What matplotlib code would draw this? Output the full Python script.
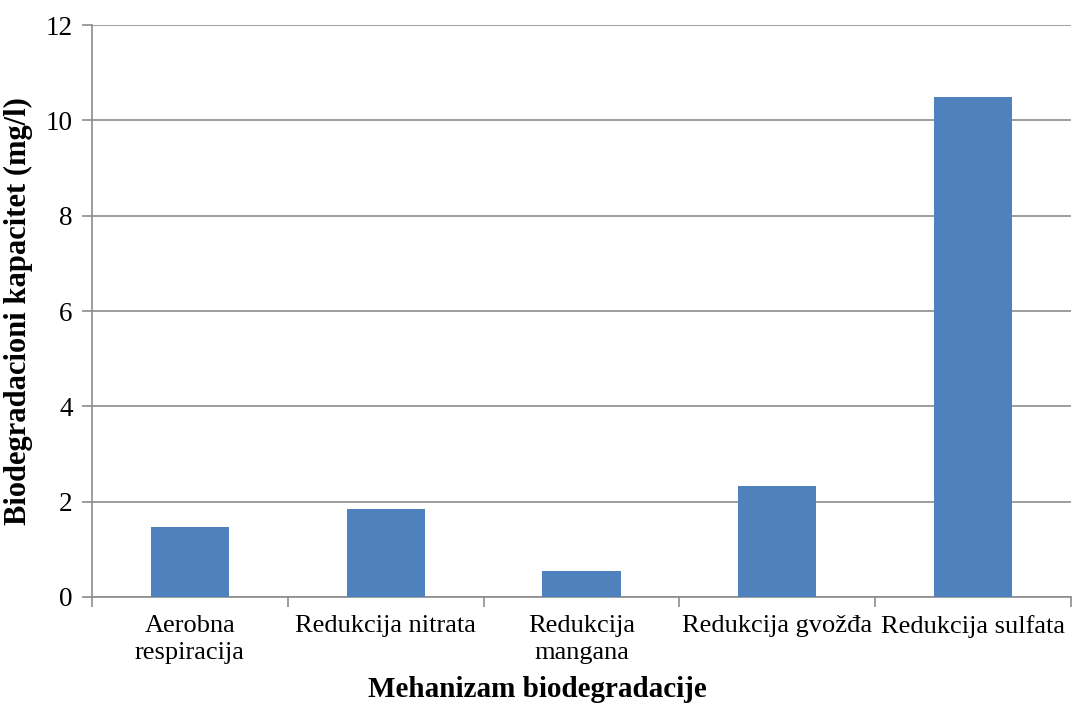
import matplotlib
matplotlib.use('Agg')
import matplotlib.pyplot as plt
import numpy as np

# Biodegradation capacity per mechanism
mehanizmi = ['Aerobna\nrespiracija', 'Redukcija nitrata', 'Redukcija\nmangana',
             'Redukcija gvožđa', 'Redukcija sulfata']
kapacitet = [1.46, 1.85, 0.55, 2.33, 10.5]
y_ticks = [0, 2, 4, 6, 8, 10, 12]

plt.rcParams['font.family'] = ['Liberation Serif', 'DejaVu Serif']

fig = plt.figure(figsize=(10.75, 7.09), dpi=100)
ax = fig.add_axes([0.0856, 0.158, 0.9107, 0.8067])

x = np.arange(len(mehanizmi))
ax.bar(x, kapacitet, width=0.4, color='#4F81BD', zorder=3)

grid_col = '#8C8C8C'
ax.set_ylim(0, 12)
ax.set_xlim(-0.5, len(mehanizmi) - 0.5)
ax.set_yticks(y_ticks)
ax.set_yticklabels([str(t) for t in y_ticks], fontsize=19.5)
ax.yaxis.grid(True, color=grid_col, linewidth=1.2, zorder=0)

ax.set_xticks(x)
ax.set_xticklabels(mehanizmi, fontsize=19)
for lbl in ax.get_xticklabels():
    lbl.set_linespacing(1.3)
ax.set_xticks(np.arange(-0.5, len(mehanizmi)), minor=True)
ax.tick_params(axis='x', which='major', length=0, pad=13)
ax.tick_params(axis='x', which='minor', length=7, color=grid_col, width=1.2)
ax.tick_params(axis='y', length=7, color=grid_col, width=1.2, pad=7)

for s in ['top', 'right']:
    ax.spines[s].set_visible(False)
for s in ['left', 'bottom']:
    ax.spines[s].set_color(grid_col)
    ax.spines[s].set_linewidth(1.2)

ax.set_ylabel('Biodegradacioni kapacitet (mg/l)', fontsize=22, fontweight='bold', labelpad=9)
fig.text(0.5, 0.008, 'Mehanizam biodegradacije', ha='center', va='bottom',
         fontsize=21, fontweight='bold')

fig.savefig('out.png', dpi=100)
